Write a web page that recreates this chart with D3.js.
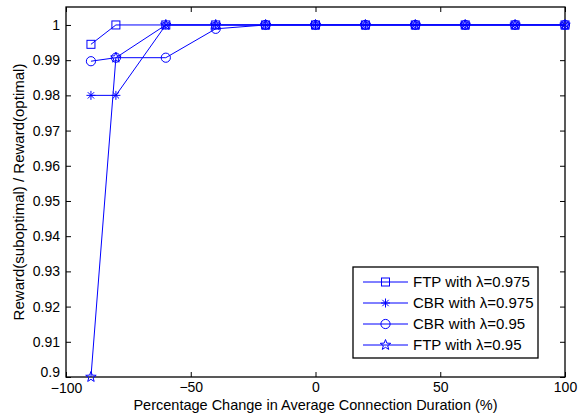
<!DOCTYPE html>
<html lang="en">
<head>
<meta charset="utf-8">
<title>Reward ratio</title>
<script src="https://d3js.org/d3.v7.min.js"></script>
<style>
body{margin:0;background:#fff;}
text{font-family:"Liberation Sans",Arial,sans-serif;fill:#000;}
</style>
</head>
<body>
<script>
// data
const xVals = [-90, -80, -60, -40, -20, 0, 20, 40, 60, 80, 100];
const ftp975 = [0.9945, 1, 1, 1, 1, 1, 1, 1, 1, 1, 1];
const cbr975 = [0.98, 0.98, 1, 1, 1, 1, 1, 1, 1, 1, 1];
const cbr95 = [0.9897, 0.9907, 0.9907, 0.9989, 1, 1, 1, 1, 1, 1, 1];
const ftp95 = [0.9, 0.9907, 1, 1, 1, 1, 1, 1, 1, 1, 1];
const seriesNames = ["FTP with λ=0.975", "CBR with λ=0.975", "CBR with λ=0.95", "FTP with λ=0.95"];
const markers = ["square", "asterisk", "circle", "pentagram"];
const xTicks = [-100, -50, 0, 50, 100];
const yTicks = [0.9, 0.91, 0.92, 0.93, 0.94, 0.95, 0.96, 0.97, 0.98, 0.99, 1];

const w = 579, h = 415;
const m = {left: 66, right: 14, top: 7, bottom: 38};
const blue = "#0000ff";

const svg = d3.select("body").append("svg").attr("width", w).attr("height", h);

const x = d3.scaleLinear().domain([-100, 100]).range([m.left, w - m.right]);
const y = d3.scaleLinear().domain([0.9, 1.0051]).range([h - m.bottom, m.top]);

// axes with inward ticks, mirrored on top/right
const fmt = d => d < 0 ? "\u2212" + Math.abs(d) : String(d);
const bottom = svg.append("g").attr("transform", `translate(0,${h - m.bottom})`)
  .call(d3.axisBottom(x).tickValues(xTicks).tickSizeInner(-5).tickSizeOuter(0).tickPadding(5).tickFormat(fmt));
svg.append("g").attr("transform", `translate(0,${m.top})`)
  .call(d3.axisTop(x).tickValues(xTicks).tickSizeInner(-5).tickSizeOuter(0).tickFormat(""));
const left = svg.append("g").attr("transform", `translate(${m.left},0)`)
  .call(d3.axisLeft(y).tickValues(yTicks).tickSizeInner(-5).tickSizeOuter(0).tickPadding(6).tickFormat(d => d3.format("")(+d.toFixed(2))));
svg.append("g").attr("transform", `translate(${w - m.right},0)`)
  .call(d3.axisRight(y).tickValues(yTicks).tickSizeInner(-5).tickSizeOuter(0).tickFormat(""));

svg.selectAll(".domain").remove();
svg.selectAll(".tick line").attr("stroke", "#000");
svg.selectAll(".tick text").style("font-size", "14px").attr("fill", "#000");
// MATLAB nudges corner labels apart
left.selectAll(".tick").filter(d => d === 0.9).select("text").attr("dy", "-0.05em");
bottom.selectAll(".tick").filter(d => d === -100).select("text").attr("dy", "0.8em");

svg.append("rect")
  .attr("x", m.left).attr("y", m.top)
  .attr("width", w - m.left - m.right).attr("height", h - m.top - m.bottom)
  .attr("fill", "none").attr("stroke", "#000").attr("stroke-width", 1.3);

// axis labels
svg.append("text").attr("x", x(0)).attr("y", 410).attr("text-anchor", "middle")
  .style("font-size", "14.5px").text("Percentage Change in Average Connection Duration (%)");
svg.append("text").attr("transform", `translate(24,${(m.top + h - m.bottom) / 2}) rotate(-90)`)
  .attr("text-anchor", "middle").style("font-size", "15px")
  .text("Reward(suboptimal) / Reward(optimal)");

// markers
function drawMarker(g, type, cx, cy) {
  if (type === "square") {
    g.append("rect").attr("x", cx - 4).attr("y", cy - 4).attr("width", 8).attr("height", 8)
      .attr("fill", "none").attr("stroke", blue);
  } else if (type === "circle") {
    g.append("circle").attr("cx", cx).attr("cy", cy).attr("r", 4.6)
      .attr("fill", "none").attr("stroke", blue);
  } else if (type === "asterisk") {
    const r = 4.5;
    [0, 45, 90, 135].forEach(a => {
      const t = a * Math.PI / 180;
      g.append("line").attr("x1", cx - r * Math.cos(t)).attr("y1", cy - r * Math.sin(t))
        .attr("x2", cx + r * Math.cos(t)).attr("y2", cy + r * Math.sin(t)).attr("stroke", blue);
    });
  } else {
    const pts = [];
    for (let i = 0; i < 10; i++) {
      const rr = i % 2 === 0 ? 5.5 : 2.3;
      const t = -Math.PI / 2 + i * Math.PI / 5;
      pts.push([cx + rr * Math.cos(t), cy + rr * Math.sin(t)]);
    }
    g.append("path").attr("d", "M" + pts.join("L") + "Z").attr("fill", "none").attr("stroke", blue);
  }
}

const allSeries = [ftp975, cbr975, cbr95, ftp95];
const line = d3.line().x((d, i) => x(xVals[i])).y(d => y(d));
allSeries.forEach((vals, k) => {
  const g = svg.append("g");
  g.append("path").datum(vals).attr("d", line).attr("fill", "none").attr("stroke", blue).attr("stroke-width", 1);
  vals.forEach((v, i) => drawMarker(g, markers[k], x(xVals[i]), y(v)));
});

// legend
const lg = svg.append("g");
lg.append("rect").attr("x", 353).attr("y", 267).attr("width", 185).attr("height", 91)
  .attr("fill", "#fff").attr("stroke", "#000").attr("stroke-width", 1.3);
seriesNames.forEach((name, k) => {
  const ly = 282 + k * 21;
  lg.append("line").attr("x1", 363).attr("x2", 408).attr("y1", ly).attr("y2", ly).attr("stroke", blue);
  drawMarker(lg, markers[k], 385.5, ly);
  lg.append("text").attr("x", 413).attr("y", ly).attr("dy", "0.35em").style("font-size", "15px").text(name);
});
</script>
</body>
</html>
